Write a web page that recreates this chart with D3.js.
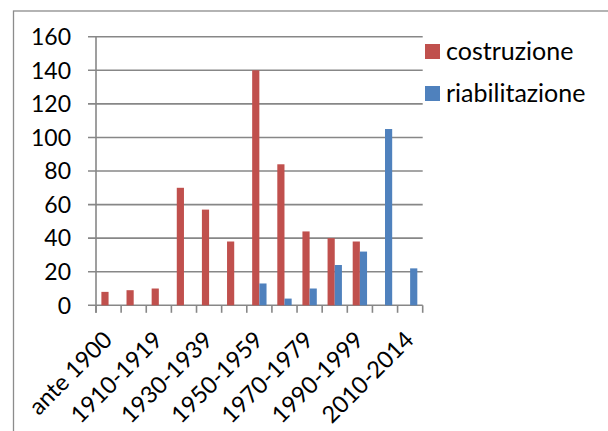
<!DOCTYPE html>
<html>
<head>
<meta charset="utf-8">
<script src="https://cdn.jsdelivr.net/npm/d3@7/dist/d3.min.js"></script>
<style>
  html, body { margin: 0; padding: 0; background: #fff; }
  svg { display: block; }
  text { font-family: Lato, "Open Sans", sans-serif; fill: #000; }
</style>
</head>
<body>
<svg id="chart" width="608" height="431"></svg>
<script>
// Periods of construction and counts per intervention type
const categories = ["ante 1900", "1900-1909", "1910-1919", "1920-1929", "1930-1939",
  "1940-1949", "1950-1959", "1960-1969", "1970-1979", "1980-1989", "1990-1999",
  "2000-2009", "2010-2014"];
const seriesNames = ["costruzione", "riabilitazione"];
const costruzione   = [8, 9, 10, 70, 57, 38, 140, 84, 44, 40, 38, 0, 0];
const riabilitazione = [0, 0, 0, 0, 0, 0, 13, 4, 10, 24, 32, 105, 22];
const yTicks = [0, 20, 40, 60, 80, 100, 120, 140, 160];
const colors = ["#C0504D", "#4F81BD"];

const values = [costruzione, riabilitazione];
const rows = categories.map((c, i) => ({
  cat: c,
  vals: seriesNames.map((s, j) => ({ series: s, idx: j, value: values[j][i] }))
}));

const svg = d3.select("#chart");
const plot = { left: 96, right: 422.7, top: 36.7, bottom: 305.3 };

// outer chart frame
svg.append("rect")
  .attr("x", 13.5).attr("y", 11)
  .attr("width", 640).attr("height", 460)
  .attr("fill", "none").attr("stroke", "#8c8c8c").attr("stroke-width", 1.3);

const x0 = d3.scaleBand().domain(categories).range([plot.left, plot.right]).padding(0);
const x1 = d3.scaleBand().domain(seriesNames).range([0, x0.bandwidth()])
  .paddingInner(0).paddingOuter(0.75);
const y = d3.scaleLinear().domain([0, 160]).range([plot.bottom, plot.top]);

// horizontal gridlines (including the category axis at 0)
svg.append("g")
  .selectAll("line").data(yTicks).join("line")
  .attr("x1", plot.left - 8).attr("x2", plot.right)
  .attr("y1", d => y(d)).attr("y2", d => y(d))
  .attr("stroke", "#878787").attr("stroke-width", 1.6);

// value axis line
svg.append("line")
  .attr("x1", plot.left).attr("x2", plot.left)
  .attr("y1", y(160)).attr("y2", plot.bottom + 7.5)
  .attr("stroke", "#878787").attr("stroke-width", 1.6);

// value axis labels
svg.append("g")
  .selectAll("text").data(yTicks).join("text")
  .attr("x", 71).attr("y", d => y(d))
  .attr("dy", "0.36em")
  .attr("text-anchor", "end")
  .style("font-size", "23px")
  .text(d => d);

// category tick marks at band boundaries
const boundaries = categories.map(c => x0(c)).concat([plot.right]);
svg.append("g")
  .selectAll("line").data(boundaries).join("line")
  .attr("x1", d => d).attr("x2", d => d)
  .attr("y1", plot.bottom).attr("y2", plot.bottom + 7.5)
  .attr("stroke", "#878787").attr("stroke-width", 1.6);

// bars
svg.append("g")
  .selectAll("g").data(rows).join("g")
  .attr("transform", d => `translate(${x0(d.cat)},0)`)
  .selectAll("rect").data(d => d.vals.filter(v => v.value > 0)).join("rect")
  .attr("x", d => x1(d.series))
  .attr("width", x1.bandwidth())
  .attr("y", d => y(d.value))
  .attr("height", d => y(0) - y(d.value))
  .attr("fill", d => colors[d.idx]);

// category labels, every other period, rotated
svg.append("g")
  .selectAll("text").data(categories.filter((c, i) => i % 2 === 0)).join("text")
  .attr("transform", d => {
    const cx = x0(d) + x0.bandwidth() / 2 + 5;
    return `translate(${cx},${plot.bottom + 36}) rotate(-45)`;
  })
  .attr("text-anchor", "end")
  .style("font-size", "23.5px")
  .text(d => d);

// legend
const legend = svg.append("g").selectAll("g").data(seriesNames).join("g")
  .attr("transform", (d, i) => `translate(425,${44 + i * 42})`);
legend.append("rect")
  .attr("width", 15).attr("height", 15)
  .attr("fill", (d, i) => colors[i]);
legend.append("text")
  .attr("x", 21).attr("y", 16)
  .style("font-size", "25px")
  .text(d => d);
</script>
</body>
</html>
